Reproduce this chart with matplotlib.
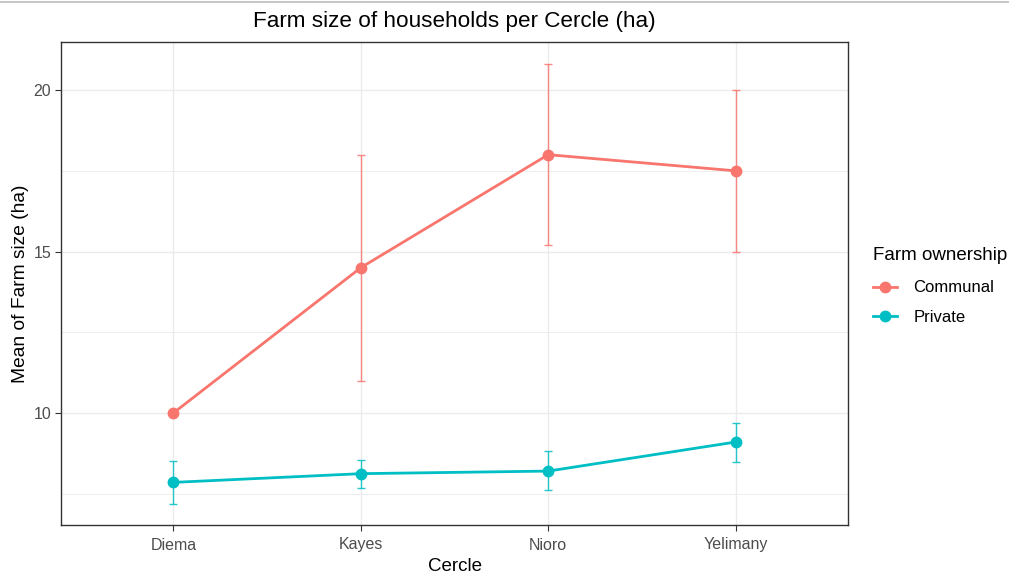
import matplotlib
matplotlib.use("Agg")
import matplotlib.pyplot as plt
from matplotlib.lines import Line2D
import numpy as np

plt.rcParams['font.family'] = ['Liberation Sans', 'DejaVu Sans']

cercles = ["Diema", "Kayes", "Nioro", "Yelimany"]
groups = ["Communal", "Private"]
colors = {"Communal": "#F8766D", "Private": "#00BFC4"}

communal_mean = [10.0, 14.5, 18.0, 17.5]
communal_low = [10.0, 11.0, 15.2, 15.0]
communal_high = [10.0, 18.0, 20.8, 20.0]

private_mean = [7.85, 8.12, 8.20, 9.10]
private_low = [7.17, 7.68, 7.61, 8.47]
private_high = [8.51, 8.55, 8.82, 9.68]

series = {
    "Communal": (communal_mean, communal_low, communal_high),
    "Private": (private_mean, private_low, private_high),
}

W, H = 1009, 577
fig = plt.figure(figsize=(W / 100, H / 100), dpi=100)
ax = fig.add_axes([61 / W, 1 - 525 / H, (848 - 61) / W, (525 - 42) / H])

x = np.arange(1, len(cercles) + 1)
for g in groups:
    m, lo, hi = series[g]
    m, lo, hi = np.array(m), np.array(lo), np.array(hi)
    c = colors[g]
    ax.errorbar(x, m, yerr=[m - lo, hi - m], fmt="none", ecolor=c,
                elinewidth=1.0, capsize=3.2, capthick=1.0, alpha=0.85, zorder=3)
    ax.plot(x, m, color=c, lw=2.0, zorder=4, solid_capstyle="butt")
    ax.plot(x, m, "o", color=c, ms=7.5, mec=c, zorder=5)

ax.set_xlim(0.4, 4.6)
ax.set_ylim(6.53, 21.49)
ax.set_xticks(x)
ax.set_xticklabels(cercles)
ax.set_yticks([10, 15, 20])
ax.set_yticks([7.5, 12.5, 17.5], minor=True)

ax.grid(True, which="major", color="#EBEBEB", lw=1.0, zorder=0)
ax.grid(True, which="minor", axis="y", color="#EBEBEB", lw=0.6, zorder=0)
ax.set_axisbelow(True)
ax.tick_params(axis="both", which="major", length=4, width=0.8, color="#333333",
               labelcolor="#4D4D4D", labelsize=11.5, pad=3)
ax.tick_params(axis="x", which="major", pad=5)
ax.tick_params(axis="y", which="minor", length=0)
for s in ax.spines.values():
    s.set_color("#333333")
    s.set_linewidth(1.0)

ax.set_xlabel("Cercle", fontsize=13.5, color="black", labelpad=4)
ax.set_ylabel("Mean of Farm size (ha)", fontsize=13.8, color="black", labelpad=3)
fig.text(454.5 / W, 1 - 22 / H, "Farm size of households per Cercle (ha)",
         ha="center", va="center", fontsize=16.2, color="black")

handles = [Line2D([0], [0], color=colors[g], lw=2.0, marker="o", ms=7.5) for g in groups]
leg = fig.legend(handles, groups, title="Farm ownership", loc="upper left",
                 bbox_to_anchor=(861 / W, 1 - 235 / H), frameon=False,
                 fontsize=12, title_fontsize=13.5, handlelength=1.45,
                 handletextpad=1.0, labelspacing=0.85, borderpad=0.2)
leg._legend_box.align = "left"
leg._legend_box.sep = 12

# thin rule across the top edge
fig.add_artist(Line2D([0, 1], [1 - 2 / H, 1 - 2 / H], transform=fig.transFigure,
                      color="#BEBEBE", lw=1.2))

fig.savefig("out.png", dpi=100)
